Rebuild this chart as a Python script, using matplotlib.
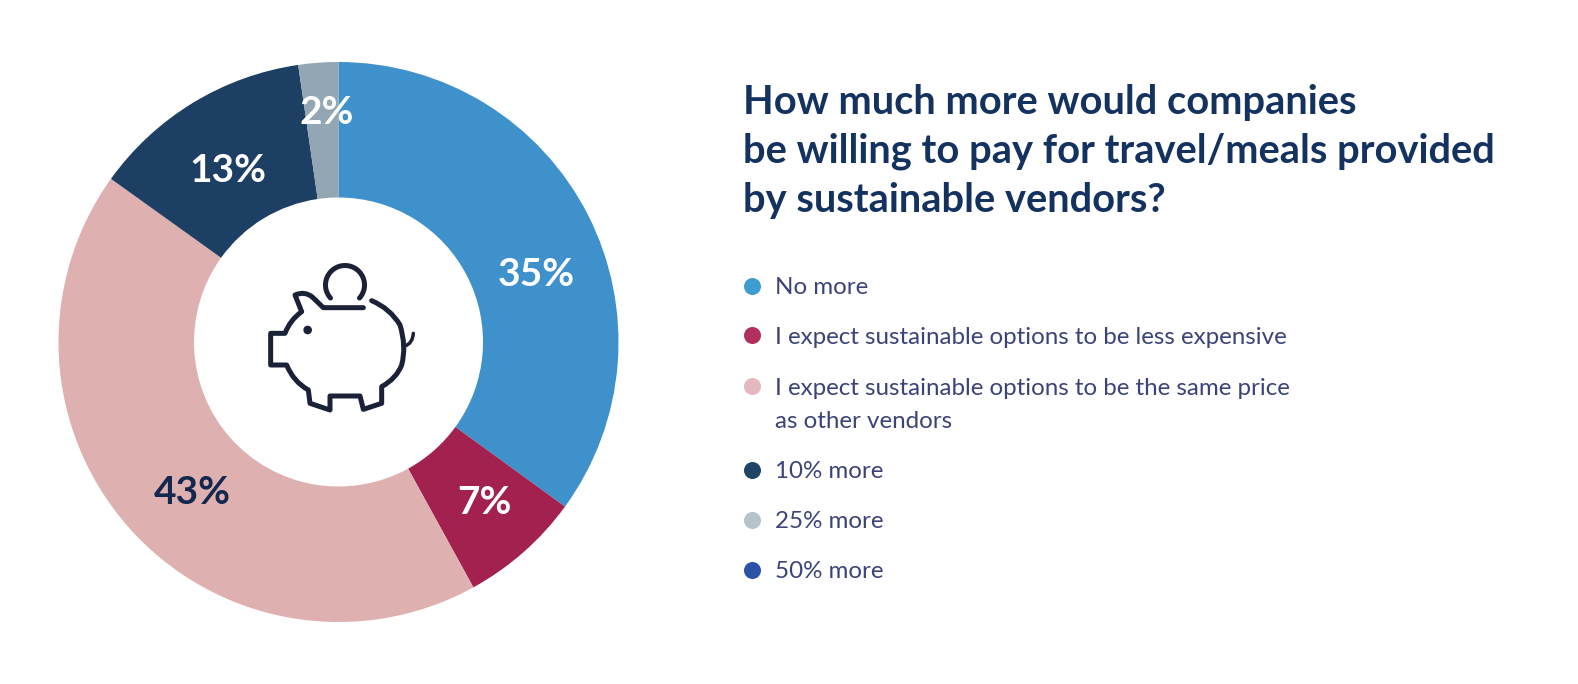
import matplotlib
matplotlib.use('Agg')
import matplotlib.pyplot as plt
from matplotlib.path import Path
from matplotlib.patches import PathPatch, Arc, Circle

plt.rcParams['font.family'] = ['Lato', 'DejaVu Sans']

# Data
categories = ['No more', 'I expect sustainable options to be less expensive',
              'I expect sustainable options to be the same price\nas other vendors',
              '10% more', '25% more', '50% more']
# printed labels, and the slice sizes as they are actually drawn in the picture
pct_labels = ['35%', '7%', '43%', '13%', '2%']
values = [35, 7, 42.9, 12.8, 2.3, 0]
slice_colors = ['#3F91CC', '#A3214F', '#DFB0B0', '#1D3F63', '#92A7B3', '#2B52A4']
dot_colors = ['#3E9DD0', '#B3305C', '#E5B8C0', '#1F4566', '#B5C3CB', '#2B52A4']
label_colors = ['white', 'white', '#14284F', 'white', 'white']
title = 'How much more would companies\nbe willing to pay for travel/meals provided\nby sustainable vendors?'

W, H = 1578, 684
fig = plt.figure(figsize=(W / 100, H / 100), dpi=100, facecolor='white')

# pie, in its own square axes
cx, cy, R = 338.5, 342, 280
ax = fig.add_axes([(cx - R) / W, 1 - (cy + R) / H, 2 * R / W, 2 * R / H])
ax.pie(values, colors=slice_colors, startangle=90, counterclock=False, radius=1,
       wedgeprops=dict(width=1 - 144.5 / R, linewidth=0))
ax.set_xlim(-1, 1)
ax.set_ylim(-1, 1)

# overlay in pixel coordinates for text and icon
ov = fig.add_axes([0, 0, 1, 1])
ov.set_xlim(0, W)
ov.set_ylim(H, 0)
ov.axis('off')
ov.patch.set_alpha(0)

label_xy = [(536, 274), (484, 502), (192, 493), (228, 171), (327, 113)]
for (x, y), s, c in zip(label_xy, pct_labels, label_colors):
    ov.text(x, y, s, color=c, fontsize=28, fontweight='bold', ha='center', va='center')

ov.text(743, 151.5, title, color='#14325F', fontsize=28.7, fontweight='bold', va='center',
        ha='left', linespacing=1.385)

dot_y = [286, 335, 386, 470, 520, 570]
text_y = [288, 337, 405, 472, 522, 572]
for cat, dy, ty, c in zip(categories, dot_y, text_y, dot_colors):
    ov.scatter([752], [dy], s=150, color=c, linewidths=0)
    ov.text(775, ty, cat, color='#3B4379', fontsize=17.4, va='center', ha='left', linespacing=1.75)


# piggy bank icon, points taken from the 3x crop at (230, 240)
def z(x, y):
    return (230 + x / 3, 240 + y / 3)


M, L, C = Path.MOVETO, Path.LINETO, Path.CURVE3
body = [(M, 400, 203), (L, 280, 203), (L, 248, 172), (C, 225, 152), (C, 195, 165),
        (L, 215, 215), (C, 180, 240), (C, 165, 280), (L, 122, 280), (L, 122, 375),
        (L, 170, 375), (C, 190, 425), (C, 235, 450), (L, 240, 490), (L, 300, 510),
        (L, 300, 468), (L, 390, 468), (L, 400, 508), (L, 455, 490), (L, 455, 440),
        (C, 500, 415), (C, 515, 375), (C, 530, 320), (C, 510, 255), (C, 480, 205),
        (C, 425, 182)]
verts = [z(x, y) for _, x, y in body]
codes = [k for k, _, _ in body]
icon = '#1B2238'
ov.add_patch(PathPatch(Path(verts, codes), fill=False, edgecolor=icon, lw=3.6,
                       capstyle='round', joinstyle='round'))
tail = Path([z(525, 318), z(548, 310), z(550, 280)], [M, C, C])
ov.add_patch(PathPatch(tail, fill=False, edgecolor=icon, lw=2.5, capstyle='round'))
ox, oy = z(345, 135)
ov.add_patch(Arc((ox, oy), 39, 39, theta1=138, theta2=42, edgecolor=icon, lw=3.6, capstyle='round'))
ov.add_patch(Circle(z(233, 270), 3.6, color=icon))

fig.savefig('out.png', dpi=100)
